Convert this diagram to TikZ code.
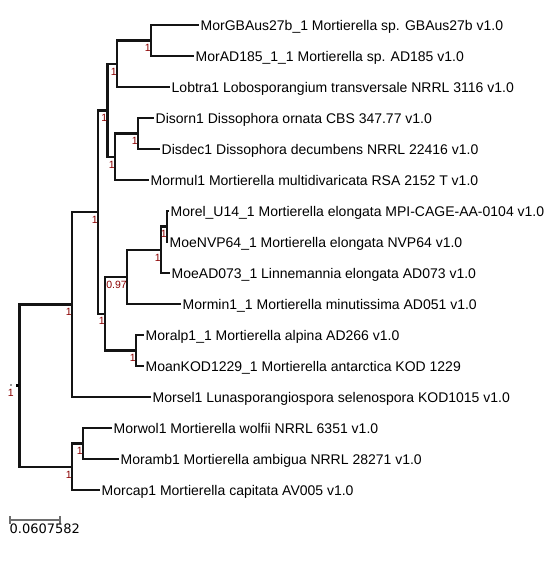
\documentclass[tikz,border=0pt]{standalone}
\usepackage{fontspec}
\setmainfont{Liberation Sans}
\newfontfamily\scalefont{DejaVu Sans}
\usetikzlibrary{calc}
\definecolor{branch}{HTML}{141414}
\definecolor{suppt}{HTML}{8B0000}
\definecolor{bargray}{HTML}{6E6E6E}
\definecolor{dotgray}{HTML}{9A9A9A}
\tikzset{
  br/.style={draw=branch, line width=2.4pt},
  tip/.style={anchor=west, font=\fontsize{14}{14}\selectfont, text height=10pt,
              text depth=0pt, inner xsep=1.5pt, inner ysep=0pt},
  supp/.style={anchor=east, font=\fontsize{10.5}{10.5}\selectfont, text=suppt,
               text height=7.5pt, text depth=0pt, inner sep=0.5pt},
  sbar/.style={draw=bargray, line width=1.8pt},
  rootmark/.style={fill=black, minimum size=3pt, inner sep=0pt},
  rootdot/.style={fill=dotgray, minimum size=2pt, inner sep=0pt}
}

\begin{document}
\begin{tikzpicture}[x=1pt,y=-1pt]
  \useasboundingbox (0,0) rectangle (558,566);
  \foreach \n/\x/\y in {R/19.5/385.6, A/72/304.5, B/98/212, C/107.5/110.3, D/117/63.8,
                        E/151/40.5, F/115/156.8, G/138/133.5, H/105/313.7, I/127/276.9,
                        J/161/249.8, K/167/226.5, L/136/350.5, M/72/466.8, N/83/443.5} {
    \coordinate (\n) at (\x,\y);
  }

  \foreach \n/\x/\y/\t in {
      gbaus/199/25/{MorGBAus27b\_1 Mortierella sp. GBAus27b v1.0},
      ad185/194/56/{MorAD185\_1\_1 Mortierella sp. AD185 v1.0},
      lobtra/170/87/{Lobtra1 Lobosporangium transversale NRRL 3116 v1.0},
      disorn/154/118/{Disorn1 Dissophora ornata CBS 347.77 v1.0},
      disdec/160/149/{Disdec1 Dissophora decumbens NRRL 22416 v1.0},
      mormul/149/180/{Mormul1 Mortierella multidivaricata RSA 2152 T v1.0},
      morel/169/211/{Morel\_U14\_1 Mortierella elongata MPI-CAGE-AA-0104 v1.0},
      moenvp/168/242/{MoeNVP64\_1 Mortierella elongata NVP64 v1.0},
      moead/170/273/{MoeAD073\_1 Linnemannia elongata AD073 v1.0},
      mormin/181/304/{Mormin1\_1 Mortierella minutissima AD051 v1.0},
      moralp/144/335/{Moralp1\_1 Mortierella alpina AD266 v1.0},
      moan/144/366/{MoanKOD1229\_1 Mortierella antarctica KOD 1229},
      morsel/151/397/{Morsel1 Lunasporangiospora selenospora KOD1015 v1.0},
      morwol/112/428/{Morwol1 Mortierella wolfii NRRL 6351 v1.0},
      moramb/119/459/{Moramb1 Mortierella ambigua NRRL 28271 v1.0},
      morcap/100/490/{Morcap1 Mortierella capitata AV005 v1.0}} {
    \node[tip] (\n) at (\x,\y) {\t};
  }

  \foreach \p/\c in {R/A, R/M, A/B, B/C, B/H, C/D, C/F, D/E, F/G, H/I, H/L, I/J, J/K, M/N} {
    \draw[br] (\p) |- (\c);
  }
  \foreach \p/\c in {E/gbaus, E/ad185, D/lobtra, G/disorn, G/disdec, F/mormul, K/morel, K/moenvp,
                     J/moead, I/mormin, L/moralp, L/moan, A/morsel, N/morwol, N/moramb, M/morcap} {
    \draw[br] (\p) |- (\c.west);
  }

  \foreach \n/\s in {A/1, B/1, C/1, D/1, E/1, F/1, G/1, H/1, I/0.97, J/1, K/1, L/1, M/1, N/1} {
    \node[supp] (s\n) at ([shift={(0.5,7.5)}]\n) {\s};
  }
  \node[rootmark] (rootsq) at (17,385.6) {};
  \node[rootdot] (rootgr) at (11,385) {};
  \node[supp] (sR) at (14.5,393) {1};

  \coordinate (sb0) at (10,520);
  \coordinate (sb1) at (60,520);
  \draw[sbar] (sb0) -- (sb1);
  \draw[sbar] ([yshift=-4pt]sb0) -- ([yshift=4pt]sb0);
  \draw[sbar] ([yshift=-4pt]sb1) -- ([yshift=4pt]sb1);
  \node[anchor=base west, font=\scalefont\fontsize{13}{13}\selectfont, inner sep=0pt] (sblabel)
    at (9.5,533.5) {0.0607582};
\end{tikzpicture}
\end{document}
